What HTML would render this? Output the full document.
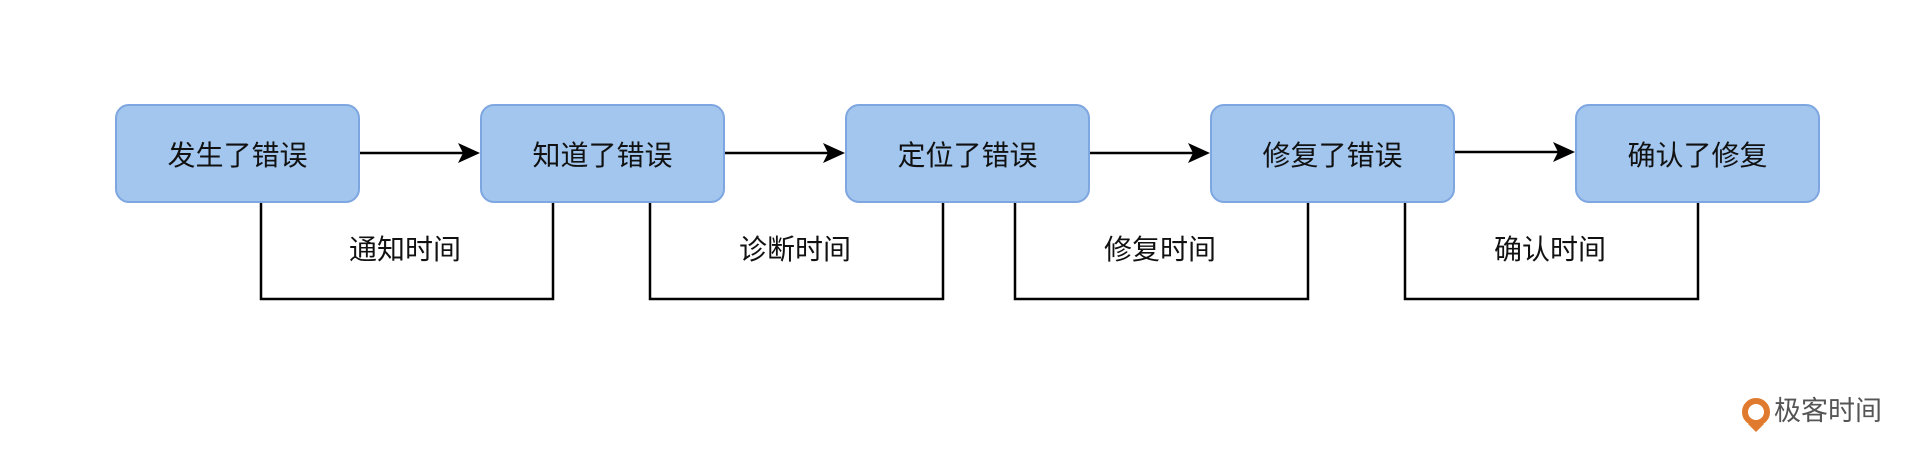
<!DOCTYPE html>
<html><head><meta charset="utf-8"><style>
html,body{margin:0;padding:0;background:#fff;}
body{width:1920px;height:459px;overflow:hidden;position:relative;font-family:"Liberation Sans","Noto Sans CJK SC",sans-serif;}
.box{position:absolute;top:104px;width:241px;height:95px;background:#a3c6ee;border:2px solid #7ea6e0;border-radius:14px;box-sizing:content-box;display:flex;align-items:center;justify-content:center;font-size:28px;color:#111;}
.lbl{position:absolute;top:230px;font-size:28px;color:#111;text-align:center;width:200px;line-height:40px;}
</style></head><body>
<svg width="1920" height="459" style="position:absolute;left:0;top:0">
<g stroke="#000" stroke-width="2.5" fill="none">
<line x1="359" y1="153" x2="476" y2="153"/>
<line x1="724" y1="153" x2="841" y2="153"/>
<line x1="1089" y1="153" x2="1206" y2="153"/>
<line x1="1454" y1="152" x2="1571" y2="152"/>
<polyline points="261,202 261,299 553,299 553,202"/>
<polyline points="650,202 650,299 943,299 943,202"/>
<polyline points="1015,202 1015,299 1308,299 1308,202"/>
<polyline points="1405,202 1405,299 1698,299 1698,202"/>
</g>
<g fill="#000">
<path d="M458,143 L480,153 L458,163 L463,153 Z"/>
<path d="M823,143 L845,153 L823,163 L828,153 Z"/>
<path d="M1188,143 L1210,153 L1188,163 L1193,153 Z"/>
<path d="M1553,142 L1575,152 L1553,162 L1558,152 Z"/>
</g>
<circle cx="1756" cy="412" r="11" fill="none" stroke="#e07a2e" stroke-width="6"/>
<path d="M1748,424 L1756,432 L1764,424 Z" fill="#e07a2e"/>
</svg>
<div class="box" style="left:115px">发生了错误</div>
<div class="box" style="left:480px">知道了错误</div>
<div class="box" style="left:845px">定位了错误</div>
<div class="box" style="left:1210px">修复了错误</div>
<div class="box" style="left:1575px">确认了修复</div>
<div class="lbl" style="left:305px">通知时间</div>
<div class="lbl" style="left:695px">诊断时间</div>
<div class="lbl" style="left:1060px">修复时间</div>
<div class="lbl" style="left:1450px">确认时间</div>
<div style="position:absolute;left:1774px;top:396px;font-size:27px;color:#555;line-height:30px;">极客时间</div>
</body></html>
